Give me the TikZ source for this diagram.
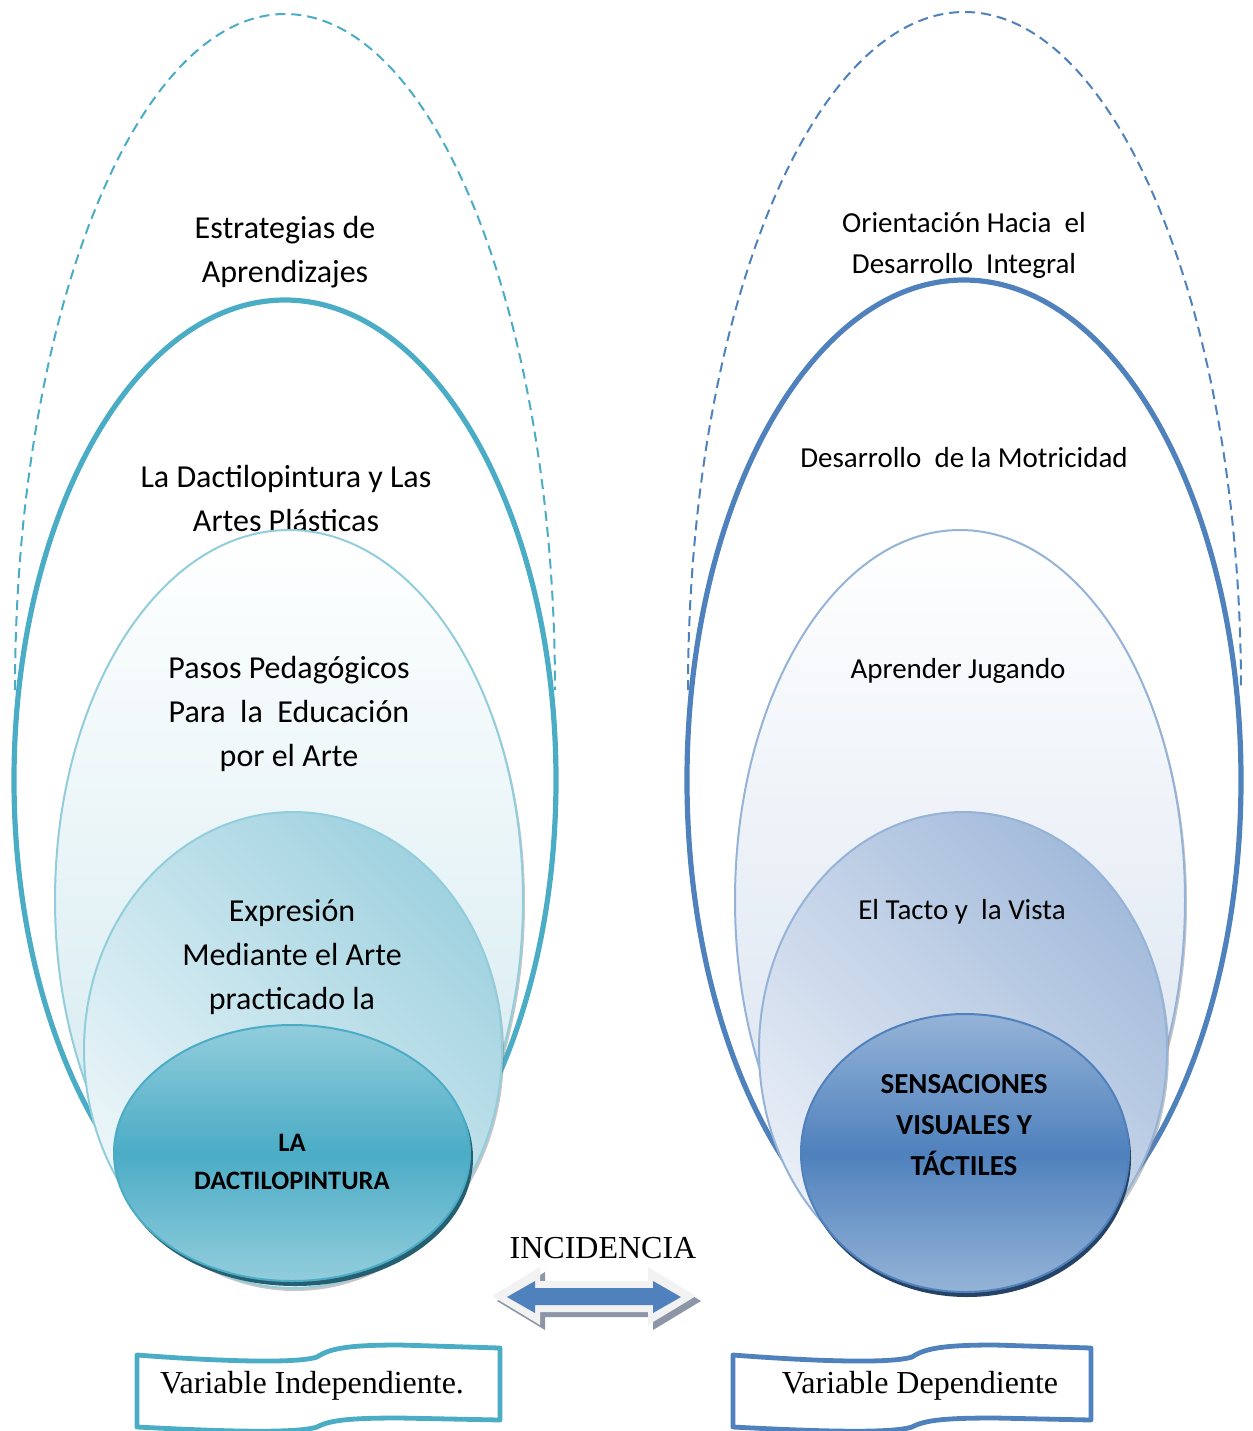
\documentclass[tikz,border=0pt]{standalone}
\usepackage{fontspec}
\setmainfont{Carlito}
\newfontfamily\timesfont{Liberation Serif}
\usepackage{tikz}

\definecolor{tealMain}{RGB}{75,172,198}
\definecolor{tealPale}{RGB}{146,205,220}
\definecolor{tealSoft}{RGB}{205,231,238}
\definecolor{tealMid}{RGB}{160,210,224}
\definecolor{tealFaint}{RGB}{238,247,250}
\definecolor{tealDark}{RGB}{38,96,112}
\definecolor{blueMain}{RGB}{79,129,189}
\definecolor{bluePale}{RGB}{149,179,215}
\definecolor{blueSoft}{RGB}{212,223,238}
\definecolor{blueMid}{RGB}{163,187,219}
\definecolor{blueFaint}{RGB}{234,239,247}
\definecolor{blueDark}{RGB}{38,66,100}
\definecolor{arrowGray}{RGB}{242,242,242}
\definecolor{arrowShade}{RGB}{140,150,166}

\begin{document}
\begin{tikzpicture}[x=0.5pt,y=0.5pt,yscale=-1,xscale=1,
  dashring/.style={line width=1pt, dash pattern=on 5pt off 3pt},
  mainring/.style={line width=2.6pt},
  paleshadow/.style={fill=black!50, opacity=0.45},
  txtL/.style={align=center, inner sep=0.75pt, font=\fontsize{16}{22}\selectfont},
  txtR/.style={align=center, inner sep=0.75pt, font=\fontsize{14.5}{20.5}\selectfont},
  txtT/.style={inner sep=0.75pt, font=\timesfont\fontsize{16}{19}\selectfont},
  labelbox/.style={line width=2.4pt, fill=white, line join=round},
  ]
\path [use as bounding box] (0,0) rectangle (1253,1431);

%Shape: Arc [id:left outer, dashed]
\draw [dashring, tealMain] (15,690) arc (180:360:270 and 676);
% Text Node
\draw (285,252) node (estrat) [txtL] {Estrategias de\\Aprendizajes};
%Shape: Ellipse [id:left main]
\draw [mainring, tealMain] (285,780) ellipse (271 and 480);
% Text Node
\draw (286,498) node (dactiloart) [txtL] {La Dactilopintura y Las\\Artes Plásticas};
%Shape: Ellipse [id:left pale]
\fill [paleshadow] (291,903) ellipse (234 and 370);
\draw [tealPale, line width=1pt, top color=white, bottom color=tealSoft] (289,900) ellipse (234 and 370);
% Text Node
\draw (289,714) node (pasos) [txtL] {Pasos Pedagógicos\\Para\ \ la\ \ Educación\\por el Arte};
%Shape: Ellipse [id:left expresion]
\fill [paleshadow] (295,1053) ellipse (209 and 238);
\draw [tealPale, line width=1pt, top color=tealMid, bottom color=tealFaint, shading angle=-45] (293,1050) ellipse (209 and 238);
% Text Node
\draw (292,957) node (expres) [txtL] {Expresión\\Mediante el Arte\\practicado la};
%Shape: Ellipse [id:left core]
\fill [tealDark] (295,1158) ellipse (178 and 128);
\draw [tealMain, line width=1pt, top color=tealPale, bottom color=tealPale, middle color=tealMain] (292,1153) ellipse (178 and 128);
% Text Node
\draw (292,1162) node (dactilo) [align=center, inner sep=0.75pt, font=\bfseries\fontsize{13.3}{19}\selectfont] {LA\\DACTILOPINTURA};

%Shape: Arc [id:right outer, dashed]
\draw [dashring, blueMain] (688,690) arc (180:360:276.5 and 678);
% Text Node
\draw (964,245) node (orient) [txtR] {Orientación Hacia\ \ el\\Desarrollo\ \ Integral};
%Shape: Ellipse [id:right main]
\draw [mainring, blueMain] (964,780) ellipse (277 and 500);
% Text Node
\draw (964,458) node (motric) [txtR] {Desarrollo\ \ de la Motricidad};
%Shape: Ellipse [id:right pale]
\fill [paleshadow] (962,903) ellipse (225 and 370);
\draw [bluePale, line width=1pt, top color=white, bottom color=blueSoft] (960,900) ellipse (225 and 370);
% Text Node
\draw (958,671) node (jugando) [txtR] {Aprender Jugando};
%Shape: Ellipse [id:right tacto]
\fill [paleshadow] (965,1053) ellipse (204 and 238);
\draw [bluePale, line width=1pt, top color=blueMid, bottom color=blueFaint, shading angle=-45] (963,1050) ellipse (204 and 238);
% Text Node
\draw (962,912) node (tacto) [txtR] {El Tacto y\ \ la Vista};
%Shape: Ellipse [id:right core]
\fill [blueDark] (967,1158) ellipse (164 and 139);
\draw [blueMain, line width=1pt, top color=bluePale, bottom color=bluePale, middle color=blueMain] (965,1153) ellipse (164 and 139);
% Text Node
\draw (964,1125) node (sensac) [align=center, inner sep=0.75pt, font=\bfseries\fontsize{14.5}{20.5}\selectfont] {SENSACIONES\\VISUALES Y\\TÁCTILES};

% Text Node
\draw (603,1248) node (incid) [txtT] {INCIDENCIA};
%Shape: Double Arrow [id:outer]
\fill [arrowShade] (497,1301) -- (545,1272) -- (545,1286) -- (653,1286) -- (653,1272) -- (701,1301) -- (653,1330) -- (653,1317) -- (545,1317) -- (545,1330) -- cycle ;
\fill [arrowGray] (492,1296) -- (540,1267) -- (540,1281) -- (648,1281) -- (648,1267) -- (696,1296) -- (648,1325) -- (648,1312) -- (540,1312) -- (540,1325) -- cycle ;
%Shape: Double Arrow [id:inner]
\fill [blueMain] (507,1297) -- (535,1281) -- (535,1288) -- (653,1288) -- (653,1281) -- (681,1297) -- (653,1313) -- (653,1305) -- (535,1305) -- (535,1313) -- cycle ;

%Shape: Wave [id:left label]
\draw [labelbox, draw=tealMain] (137,1355) .. controls (215,1361) and (295,1364) .. (317,1357) .. controls (330,1348) and (350,1345) .. (400,1345) -- (500,1348) -- (500,1420) -- (400,1418) .. controls (350,1418) and (330,1420) .. (317,1427) .. controls (295,1434) and (215,1431) .. (137,1427) -- cycle ;
% Text Node
\draw (312,1386) node (indep) [txtT] {Variable Independiente.};
%Shape: Wave [id:right label]
\draw [labelbox, draw=blueMain] (733,1355) .. controls (810,1361) and (890,1364) .. (912,1357) .. controls (925,1348) and (945,1345) .. (995,1345) -- (1091,1348) -- (1091,1420) -- (995,1418) .. controls (945,1418) and (925,1420) .. (912,1427) .. controls (890,1434) and (810,1431) .. (733,1427) -- cycle ;
% Text Node
\draw (920,1386) node (depend) [txtT] {Variable Dependiente};

\end{tikzpicture}
\end{document}
